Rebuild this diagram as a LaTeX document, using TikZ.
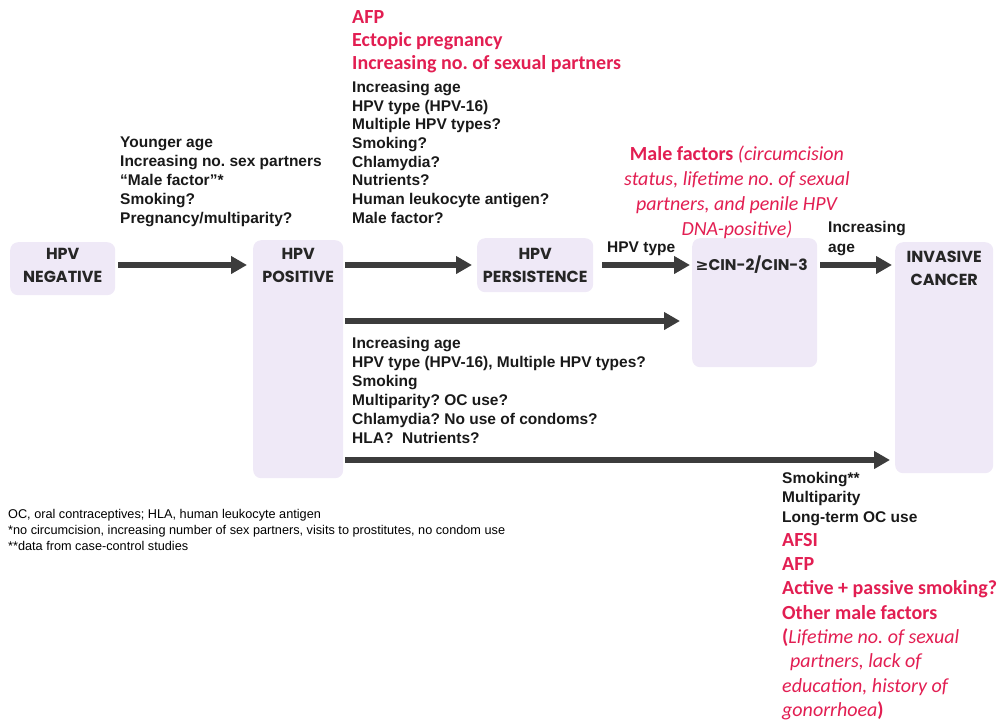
\documentclass[tikz,border=0pt]{standalone}
\usepackage{fontspec}
\setmainfont{Liberation Sans}
\newfontfamily\calib{Carlito}
\newfontfamily\geo{Poppins}
\newfontfamily\symf{DejaVu Sans}
\usetikzlibrary{arrows.meta,positioning}
\definecolor{stagefill}{RGB}{239,233,247}
\definecolor{arrowgrey}{RGB}{60,60,60}
\definecolor{hlred}{RGB}{226,30,82}
\frenchspacing

\tikzset{
  stage/.style={fill=stagefill, rounded corners=8pt, inner sep=0pt, anchor=north west},
  stagetext/.style={font=\geo\bfseries\fontsize{16}{23}\selectfont, align=center, text=black!85, inner sep=0pt},
  flow/.style={line width=5.5pt, draw=arrowgrey, -{Triangle[length=16pt,width=17pt]}},
  factors/.style={font=\bfseries\fontsize{15.5}{18.7}\selectfont, align=left, anchor=north west, inner sep=0pt, text=black!90},
  redfactors/.style={font=\calib\bfseries\fontsize{20}{24.3}\selectfont, text=hlred, align=left, anchor=north west, inner sep=0pt}
}

\begin{document}
\begin{tikzpicture}[x=1pt,y=-1pt]
\useasboundingbox (0,0) rectangle (1004,721);
% stages
\node[stage, minimum width=105pt, minimum height=53pt] (neg) at (10,242) {};
\node[stage, minimum width=90pt, minimum height=238pt] (pos) at (253,240) {};
\node[stage, minimum width=116pt, minimum height=54pt] (pers) at (477,238) {};
\node[stage, minimum width=125pt, minimum height=129pt] (cin) at (692,238) {};
\node[stage, minimum width=98pt, minimum height=231pt] (cancer) at (895,242) {};
\coordinate (row) at (0,265);
\coordinate (midrow) at (0,321);
\coordinate (lowrow) at (0,460);
\node[stagetext] (negtxt) at (neg.center |- row) {HPV\\NEGATIVE};
\node[stagetext] (postxt) at (pos.north |- row) {HPV\\POSITIVE};
\node[stagetext] (perstxt) at (pers.north |- row) {HPV\\PERSISTENCE};
\node[stagetext, xshift=-3pt, font=\geo\bfseries\fontsize{15.5}{19}\selectfont] (cintxt) at (cin.north |- row) {{\symf ≥}CIN-2/CIN-3};
\node[stagetext, yshift=-3pt] (cancertxt) at (cancer.north |- row) {INVASIVE\\CANCER};
% arrows
\draw[flow, shorten <=3pt, shorten >=6pt] (neg.east |- row) -- (pos.west |- row);
\draw[flow, shorten <=2pt, shorten >=5pt] (pos.east |- row) -- (pers.west |- row);
\draw[flow, shorten <=9pt, shorten >=2pt] (pers.east |- row) -- (cin.west |- row);
\draw[flow, shorten <=3pt, shorten >=3pt] (cin.east |- row) -- (cancer.west |- row);
\draw[flow, shorten <=2pt, shorten >=12pt] (pos.east |- midrow) -- (cin.west |- midrow);
\draw[flow, shorten <=2pt, shorten >=5pt] (pos.east |- lowrow) -- (cancer.west |- lowrow);
% factors
\node[factors, font=\bfseries\fontsize{15.5}{19}\selectfont] (toneg) at (120,137) {Younger age\\Increasing no. sex partners\\“Male factor”*\\Smoking?\\Pregnancy/multiparity?};
\node[redfactors, font=\calib\bfseries\fontsize{20}{23}\selectfont] (redpers) at (352,10) {AFP\\Ectopic pregnancy\\Increasing no. of sexual partners};
\node[factors] (topers) at (352,81) {Increasing age\\HPV type (HPV-16)\\Multiple HPV types?\\Smoking?\\Chlamydia?\\Nutrients?\\Human leukocyte antigen?\\Male factor?};
\node[redfactors, align=center, anchor=north, font=\calib\fontsize{20}{25}\selectfont] (male) at (737,146) {\textbf{Male factors} \textit{(circumcision}\\\textit{status, lifetime no. of sexual}\\\textit{partners, and penile HPV}\\\textit{DNA-positive)}};
\node[factors, anchor=base west] (typelbl) at (607,252) {HPV type};
\node[factors, font=\bfseries\fontsize{15.5}{20}\selectfont] (agelbl) at (828,221) {Increasing\\age};
\node[factors, font=\bfseries\fontsize{15.5}{19}\selectfont] (tocin) at (352,337) {Increasing age\\HPV type (HPV-16), Multiple HPV types?\\Smoking\\Multiparity? OC use?\\Chlamydia? No use of condoms?\\HLA?\ \ Nutrients?};
\node[factors, font=\bfseries\fontsize{15.5}{19.5}\selectfont] (tocancer) at (782,472) {Smoking**\\Multiparity\\Long-term OC use};
\node[redfactors] (redcancer) at (782,533) {AFSI\\AFP\\Active + passive smoking?\\Other male factors\\(\textit{\mdseries Lifetime no. of sexual}\\\hspace*{8pt}\textit{\mdseries partners, lack of}\\\textit{\mdseries education, history of}\\\textit{\mdseries gonorrhoea})};
% notes
\node[anchor=north west, inner sep=0pt, align=left, font=\fontsize{12.7}{16}\selectfont] (notes) at (8,509) {OC, oral contraceptives; HLA, human leukocyte antigen\\*no circumcision, increasing number of sex partners, visits to prostitutes, no condom use\\**data from case-control studies};
\end{tikzpicture}
\end{document}
